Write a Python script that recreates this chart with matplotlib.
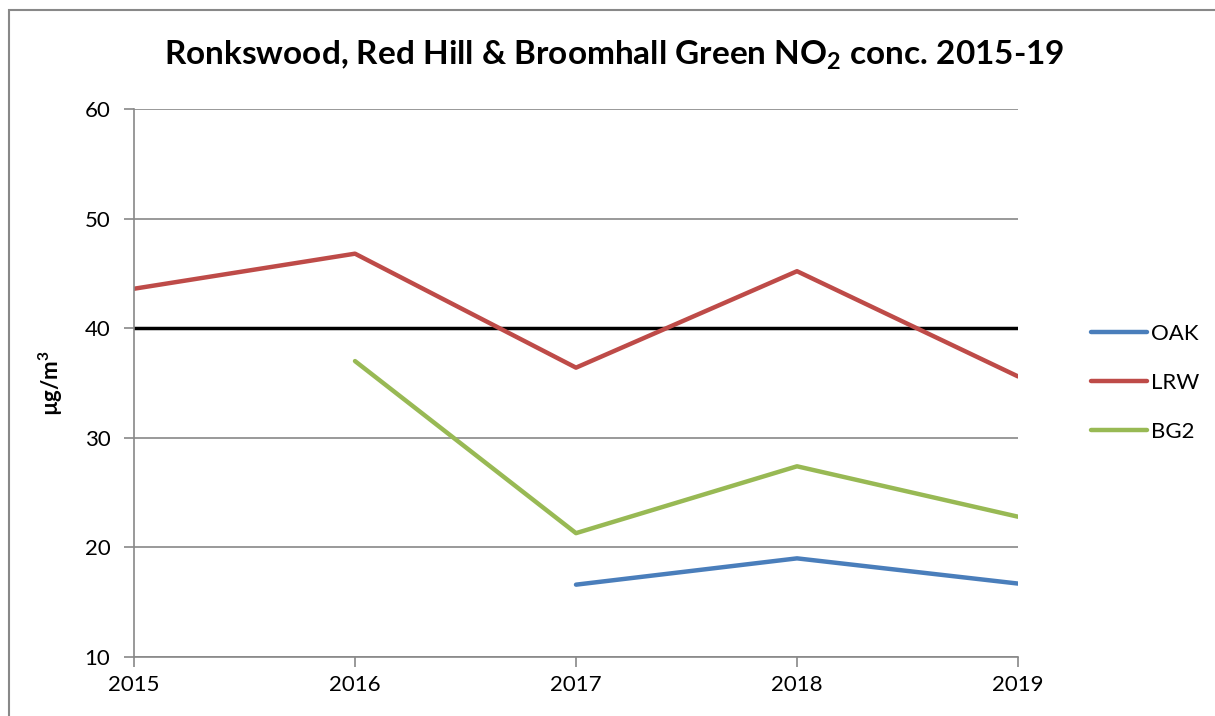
import matplotlib.pyplot as plt
from matplotlib.patches import Rectangle

years = [2015, 2016, 2017, 2018, 2019]
oak = [None, None, 16.6, 19.0, 16.7]
lrw = [43.6, 46.8, 36.4, 45.2, 35.6]
bg2 = [None, 37.0, 21.3, 27.4, 22.8]
objective = [40, 40, 40, 40, 40]

series = [
    ("OAK", oak, "#4A7EBB"),
    ("LRW", lrw, "#BE4B48"),
    ("BG2", bg2, "#98B954"),
]

plt.rcParams["font.family"] = ["Lato", "DejaVu Sans"]
plt.rcParams["mathtext.fontset"] = "custom"
plt.rcParams["mathtext.rm"] = "Lato"
plt.rcParams["mathtext.bf"] = "Lato:bold"

fig = plt.figure(figsize=(12.15, 7.16), dpi=100)
ax = fig.add_axes([134 / 1215, 1 - 657 / 716, (1018 - 134) / 1215, (657 - 109) / 716])

# outer chart border (cut off at right and bottom)
fig.patches.append(Rectangle((9 / 1215, -0.1), 1.2, 1 - 10 / 716 + 0.1,
                             transform=fig.transFigure, fill=False,
                             edgecolor="#888888", linewidth=1.5))

ax.plot(years, objective, color="black", linewidth=2.5)
for name, vals, col in series:
    xs = [y for y, v in zip(years, vals) if v is not None]
    ys = [v for v in vals if v is not None]
    ax.plot(xs, ys, color=col, linewidth=3.2, label=name, solid_capstyle="round")

ax.set_xlim(2015, 2019)
ax.set_ylim(10, 60)
ax.set_xticks(years)
ax.set_yticks(range(10, 61, 10))
ax.yaxis.grid(True, color="#888888", linewidth=1.2)
ax.set_axisbelow(True)
for s in ["top", "right"]:
    ax.spines[s].set_visible(False)
for s in ["left", "bottom"]:
    ax.spines[s].set_color("#888888")
    ax.spines[s].set_linewidth(1.2)
ax.tick_params(axis="both", colors="#888888", length=7, width=1.2, labelsize=16,
               labelcolor="black")
ax.tick_params(axis="y", pad=10)
ax.tick_params(axis="x", pad=6)

ax.set_ylabel("µg/m$^{\\mathbf{3}}$", fontsize=16, fontweight="bold", labelpad=14)
fig.text(614 / 1215, 1 - 55 / 716,
         "Ronkswood, Red Hill & Broomhall Green NO$_{\\mathbf{2}}$ conc. 2015-19",
         ha="center", va="center", fontsize=24, fontweight="bold")

ax.legend(loc="center left", bbox_to_anchor=(1.06, 0.5), frameon=False,
          fontsize=16, handlelength=2.5, handletextpad=0.2, labelspacing=1.3)

fig.savefig("out.png", dpi=100)
